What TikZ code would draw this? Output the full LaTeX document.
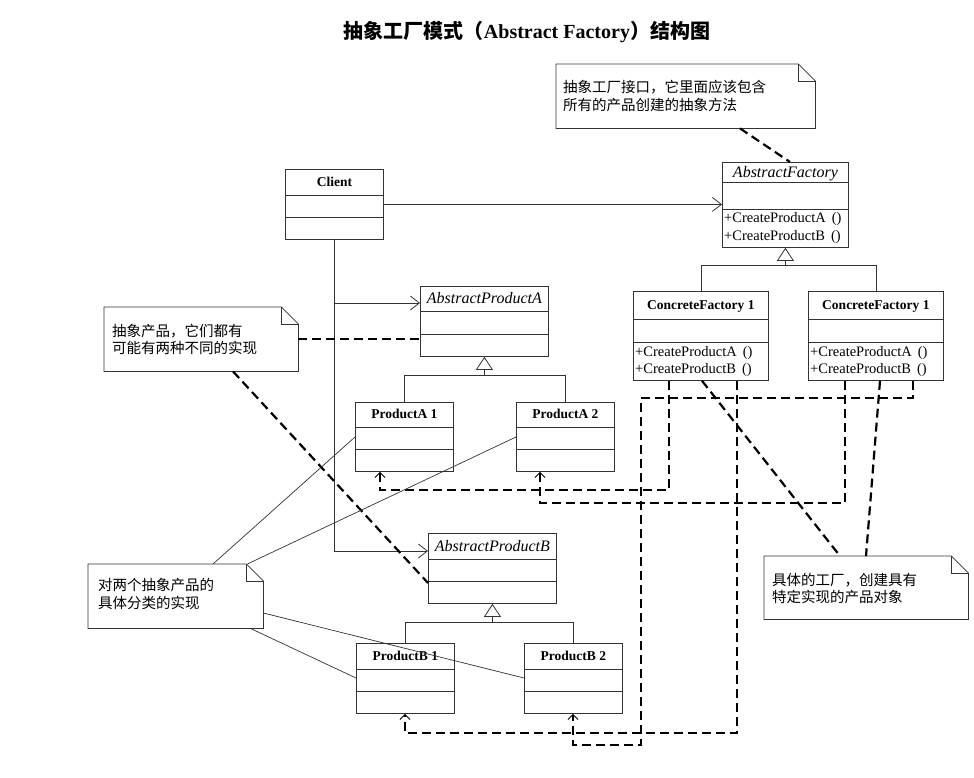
\documentclass[tikz,border=0pt]{standalone}
\usepackage{fontspec}
\setmainfont{Liberation Serif}
\newfontfamily\cjk{Noto Sans CJK SC}
\usetikzlibrary{arrows.meta,calc}
\colorlet{linec}{black!80}
\newcommand\compart[3]{\draw[boxline] ([yshift=-#2pt]#1.north west) -- ([yshift=-#2pt]#1.north east);
  \draw[boxline] ([yshift=-#3pt]#1.north west) -- ([yshift=-#3pt]#1.north east);}
\newcommand\noteshape[1]{\draw[boxline] (#1.north west) -- ([xshift=-17pt]#1.north east) -- ([yshift=-17pt]#1.north east) -- (#1.south east) -- (#1.south west) -- cycle;
  \draw[boxline] ([xshift=-17pt]#1.north east) |- ([yshift=-17pt]#1.north east);}
\newcommand\mgap{\hspace{6pt}}
\begin{document}
\begin{tikzpicture}[x=1pt,y=-1pt,
  boxline/.style={draw=linec, line width=0.8pt},
  cls/.style={draw=linec, line width=0.8pt, inner sep=0pt, anchor=north west},
  notebox/.style={inner sep=0pt, anchor=north west},
  nm/.style={font=\bfseries\fontsize{13.5}{15}\selectfont, anchor=base, inner sep=0pt},
  absnm/.style={font=\itshape\fontsize{16}{18}\selectfont, anchor=base, inner sep=0pt},
  meth/.style={font=\fontsize{14.5}{16}\selectfont, anchor=base west, inner sep=0pt},
  ntxt/.style={font=\cjk\fontsize{14.5}{18}\selectfont, anchor=base west, inner sep=0pt},
  assoc/.style={draw=linec, line width=0.8pt, -{Straight Barb[length=9pt,width=14pt,line width=0.8pt]}},
  gen/.style={draw=linec, line width=0.8pt, -{Triangle[open,length=13pt,width=17pt,line width=0.8pt,fill=white]}},
  dep/.style={draw=black, line width=2.2pt, dash pattern=on 9pt off 5pt, -{Straight Barb[length=5pt,width=10pt,line width=1pt]}},
  ndash/.style={draw=black, line width=2.2pt, dash pattern=on 9pt off 5pt},
  link/.style={draw=linec, line width=0.7pt}]
\fill[white] (0,0) rectangle (974,777);
\useasboundingbox (0,0) rectangle (974,777);

% title
\node[anchor=base, inner sep=0pt] (title) at (527,38) {{\cjk\bfseries\fontsize{20}{24}\selectfont 抽象工厂模式（}{\bfseries\fontsize{20}{24}\selectfont Abstract Factory}{\cjk\bfseries\fontsize{20}{24}\selectfont ）结构图}};

% classes
\node[cls, minimum width=98pt, minimum height=70pt] (client) at (285,169) {};
\compart{client}{26}{48}
\node[nm] (clientN) at ([yshift=-17pt]client.north) {Client};

\node[cls, minimum width=126pt, minimum height=85pt] (af) at (722,162) {};
\compart{af}{20}{47}
\node[absnm] (afN) at ([yshift=-15pt]af.north) {AbstractFactory};
\node[meth] (afM1) at ([xshift=2pt,yshift=-60pt]af.north west) {+CreateProductA\mgap()};
\node[meth] (afM2) at ([xshift=2pt,yshift=-78.5pt]af.north west) {+CreateProductB\mgap()};

\node[cls, minimum width=135pt, minimum height=89pt] (cf1) at (633,291) {};
\compart{cf1}{28}{51}
\node[nm] (cf1N) at ([yshift=-18pt]cf1.north) {ConcreteFactory 1};
\node[meth] (cf1M1) at ([xshift=2pt,yshift=-65pt]cf1.north west) {+CreateProductA\mgap()};
\node[meth] (cf1M2) at ([xshift=2pt,yshift=-82pt]cf1.north west) {+CreateProductB\mgap()};

\node[cls, minimum width=135pt, minimum height=89pt] (cf2) at (808,291) {};
\compart{cf2}{28}{51}
\node[nm] (cf2N) at ([yshift=-18pt]cf2.north) {ConcreteFactory 1};
\node[meth] (cf2M1) at ([xshift=2pt,yshift=-65pt]cf2.north west) {+CreateProductA\mgap()};
\node[meth] (cf2M2) at ([xshift=2pt,yshift=-82pt]cf2.north west) {+CreateProductB\mgap()};

\node[cls, minimum width=128pt, minimum height=70pt] (apa) at (420,286) {};
\compart{apa}{25}{48}
\node[absnm] (apaN) at ([yshift=-17pt]apa.north) {AbstractProductA};

\node[cls, minimum width=98pt, minimum height=69pt] (pa1) at (355,402) {};
\compart{pa1}{25}{47}
\node[nm] (pa1N) at ([yshift=-16pt]pa1.north) {ProductA 1};

\node[cls, minimum width=98pt, minimum height=69pt] (pa2) at (516,402) {};
\compart{pa2}{25}{47}
\node[nm] (pa2N) at ([yshift=-16pt]pa2.north) {ProductA 2};

\node[cls, minimum width=128pt, minimum height=70pt] (apb) at (428,533) {};
\compart{apb}{26}{48}
\node[absnm] (apbN) at ([yshift=-18pt]apb.north) {AbstractProductB};

\node[cls, minimum width=98pt, minimum height=70pt] (pb1) at (356,643) {};
\compart{pb1}{26}{48}
\node[nm] (pb1N) at ([yshift=-17pt]pb1.north) {ProductB 1};

\node[cls, minimum width=98pt, minimum height=70pt] (pb2) at (524,643) {};
\compart{pb2}{26}{48}
\node[nm] (pb2N) at ([yshift=-17pt]pb2.north) {ProductB 2};

% notes
\node[notebox, minimum width=259pt, minimum height=64pt] (n1) at (556,64) {};
\noteshape{n1}
\node[ntxt] (n1a) at ([xshift=7pt,yshift=-28.5pt]n1.north west) {抽象工厂接口，它里面应该包含};
\node[ntxt] (n1b) at ([xshift=7pt,yshift=-46.5pt]n1.north west) {所有的产品创建的抽象方法};

\node[notebox, minimum width=194pt, minimum height=64pt] (n2) at (104,307) {};
\noteshape{n2}
\node[ntxt] (n2a) at ([xshift=8pt,yshift=-29.5pt]n2.north west) {抽象产品，它们都有};
\node[ntxt] (n2b) at ([xshift=8pt,yshift=-46.5pt]n2.north west) {可能有两种不同的实现};

\node[notebox, minimum width=175pt, minimum height=64pt] (n3) at (88,564) {};
\noteshape{n3}
\node[ntxt] (n3a) at ([xshift=10pt,yshift=-26.5pt]n3.north west) {对两个抽象产品的};
\node[ntxt] (n3b) at ([xshift=10pt,yshift=-44.5pt]n3.north west) {具体分类的实现};

\node[notebox, minimum width=204pt, minimum height=63pt] (n4) at (764,556) {};
\noteshape{n4}
\node[ntxt] (n4a) at ([xshift=8pt,yshift=-29.5pt]n4.north west) {具体的工厂，创建具有};
\node[ntxt] (n4b) at ([xshift=8pt,yshift=-46.5pt]n4.north west) {特定实现的产品对象};

% associations from Client
\coordinate (cA) at ([yshift=-17pt]apa.north west);
\coordinate (cB) at ([yshift=-18pt]apb.north west);
\draw[assoc] (client.east) -- (client.east -| af.west);
\draw[link, line width=0.8pt] (client.south) -- (client.south |- cB);
\draw[assoc] (cA -| client.south) -- (cA);
\draw[assoc] (cB -| client.south) -- (cB);

% generalizations
\coordinate (gAF) at ([yshift=-18pt]af.south);
\draw[gen] (gAF) -- (af.south);
\draw[boxline] (cf1.north) |- (gAF) -| (cf2.north);
\coordinate (gA) at ([yshift=-19pt]apa.south);
\draw[gen] (gA) -- (apa.south);
\draw[boxline] (pa1.north) |- (gA) -| (pa2.north);
\coordinate (gB) at ([yshift=-19pt]apb.south);
\draw[gen] (gB) -- (apb.south);
\draw[boxline] (pb1.north) |- (gB) -| (pb2.north);

% dependencies (create)
\draw[dep] ([xshift=36pt]cf1.south west) -- ++(0,109) -| ([xshift=25pt]pa1.south west);
\draw[dep] ([xshift=37pt]cf2.south west) -- ++(0,122) -| ([xshift=24pt]pa2.south west);
\draw[dep] ([xshift=104pt]cf1.south west) -- ++(0,352) -| ([xshift=49pt]pb1.south west);
\draw[dep] ([xshift=105pt]cf2.south west) -- ++(0,17) -- ++(-272,0) -- ++(0,347) -| ([xshift=49pt]pb2.south west);

% note connectors
\draw[ndash] ([xshift=184pt]n1.south west) -- ([xshift=68pt]af.north west);
\draw[ndash] (n2.east) -- (n2.east -| apa.west);
\draw[ndash] ([xshift=129pt]n2.south west) -- ([yshift=-50pt]apb.north west);
\draw[ndash] ([xshift=69pt]cf1.south west) -- ([xshift=76pt]n4.north west);
\draw[ndash] ([xshift=72pt]cf2.south west) -- ([xshift=102pt]n4.north west);

\draw[link] ([xshift=125pt]n3.north west) -- ([yshift=-35pt]pa1.north west);
\draw[link] ([xshift=-16pt]n3.north east) -- ([yshift=-35pt]pa2.north west);
\draw[link] ([yshift=-49pt]n3.north east) -- ([yshift=-35pt]pb2.north west);
\draw[link] ([xshift=-13pt]n3.south east) -- ([yshift=-35pt]pb1.north west);
\end{tikzpicture}
\end{document}
